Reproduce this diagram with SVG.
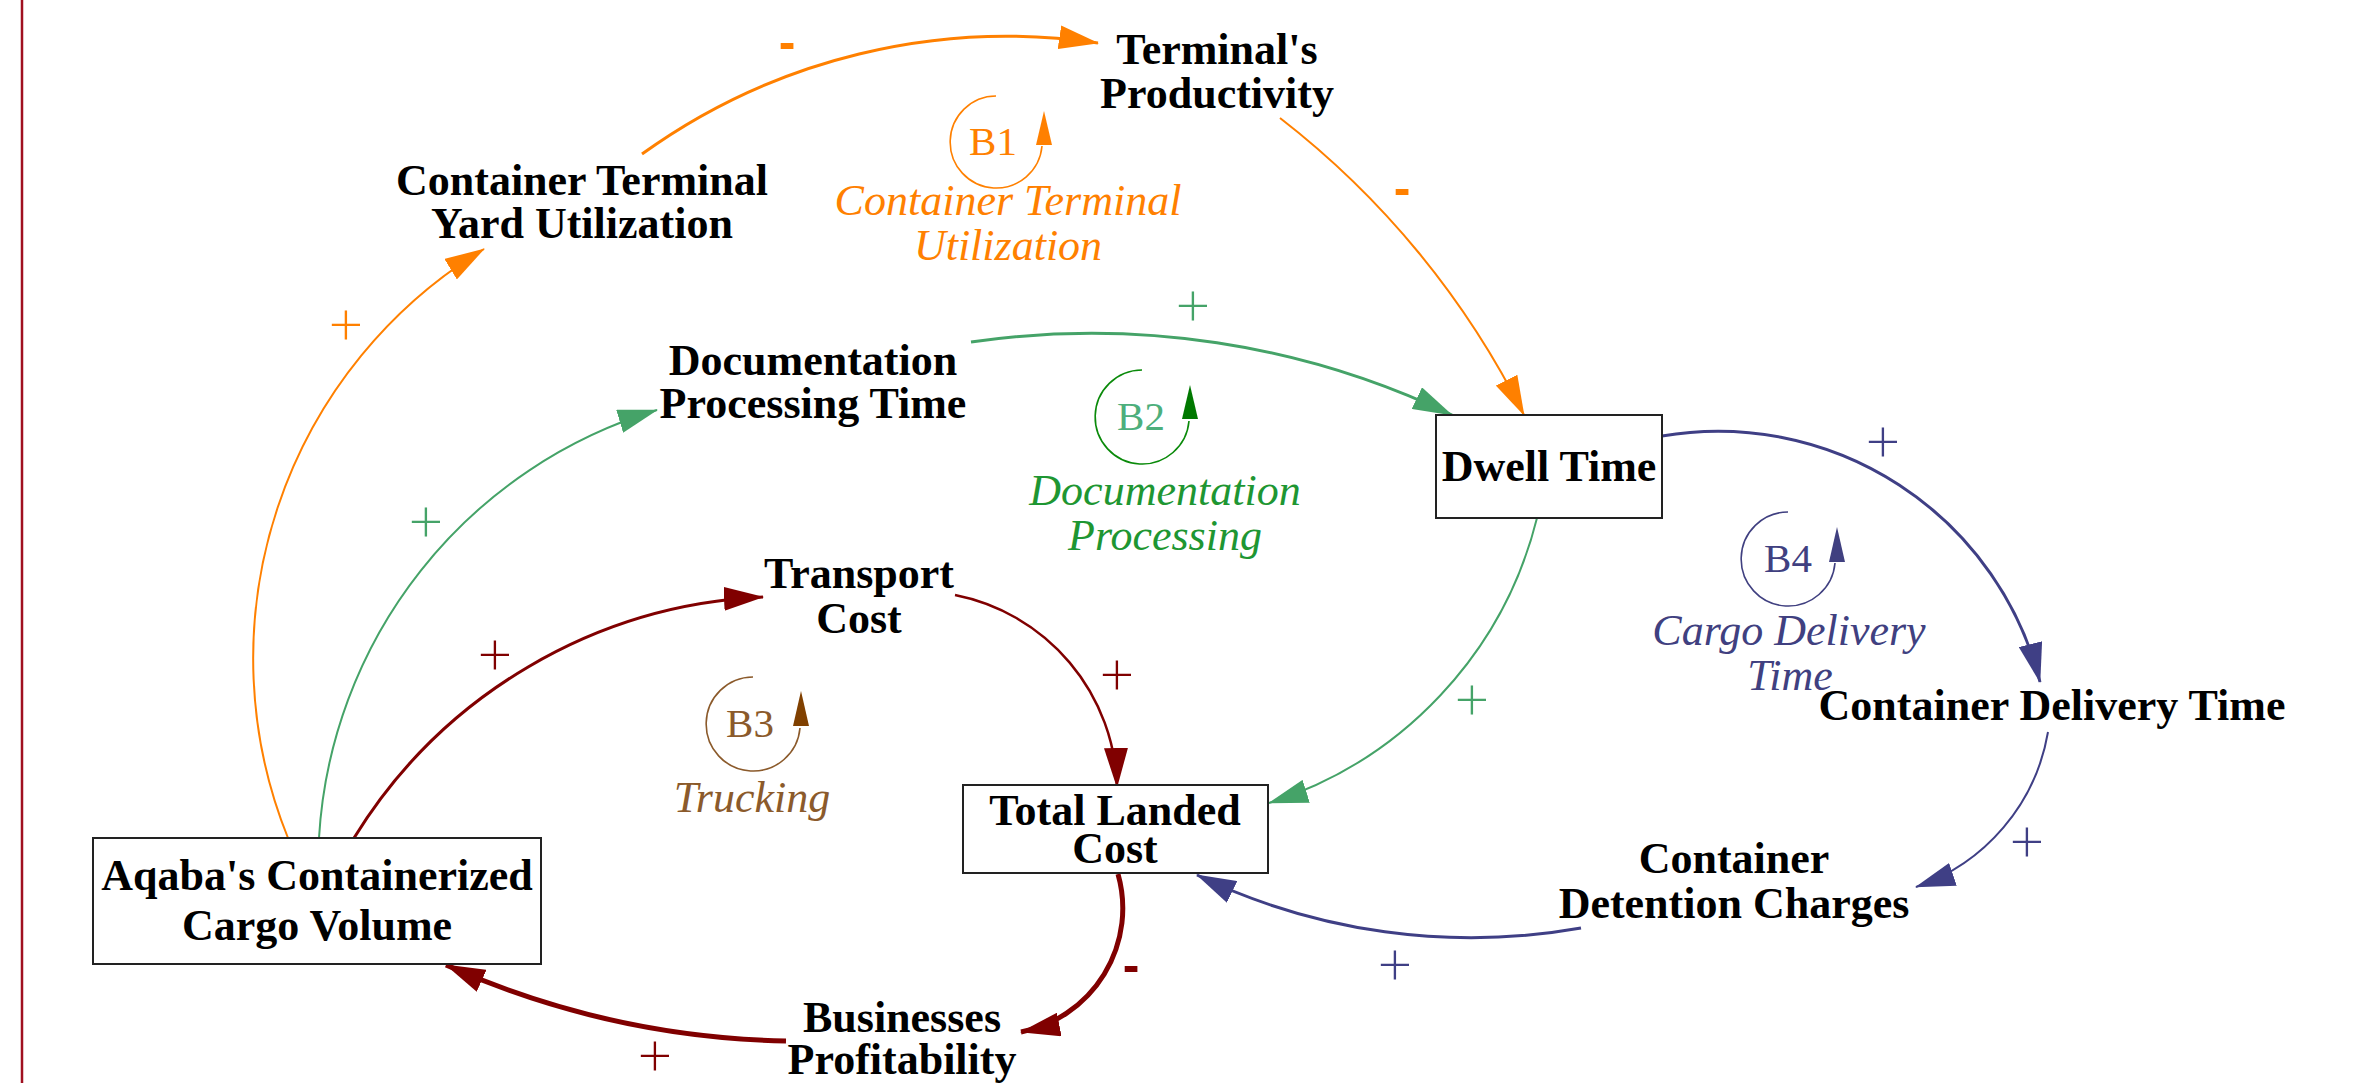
<svg xmlns="http://www.w3.org/2000/svg" width="2377" height="1083" viewBox="0 0 2377 1083">
<style>
.n{font-family:"Liberation Serif","Times New Roman",serif;font-weight:bold;font-size:44px;fill:#000;text-anchor:middle}
.lb{font-family:"Liberation Serif","Times New Roman",serif;font-style:italic;font-size:44px;text-anchor:middle}
.bl{font-family:"Liberation Serif","Times New Roman",serif;font-size:41px;text-anchor:middle}
.pol{font-family:Lato,"DejaVu Sans",sans-serif;font-weight:300;font-size:60px;text-anchor:middle}
.neg{font-family:"Liberation Sans",Arial,sans-serif;font-weight:bold;font-size:50px;text-anchor:middle}
.box{fill:#fff;stroke:#222;stroke-width:2}
.c{fill:none;stroke-linecap:butt}
.or{stroke:#FF8000}.gr{stroke:#45A368}.mr{stroke:#800000}.bu{stroke:#3F3F85}
.loop{fill:none;stroke-width:1.6}
</style>
<defs>
<marker id="ao" viewBox="0 0 40 24" markerWidth="40" markerHeight="24" refX="39" refY="12" orient="auto" markerUnits="userSpaceOnUse"><path d="M0,0 L40,12 L0,24 z" fill="#FF8000"/></marker>
<marker id="ag" viewBox="0 0 40 24" markerWidth="40" markerHeight="24" refX="39" refY="12" orient="auto" markerUnits="userSpaceOnUse"><path d="M0,0 L40,12 L0,24 z" fill="#45A368"/></marker>
<marker id="am" viewBox="0 0 40 24" markerWidth="40" markerHeight="24" refX="39" refY="12" orient="auto" markerUnits="userSpaceOnUse"><path d="M0,0 L40,12 L0,24 z" fill="#800000"/></marker>
<marker id="ab" viewBox="0 0 40 24" markerWidth="40" markerHeight="24" refX="39" refY="12" orient="auto" markerUnits="userSpaceOnUse"><path d="M0,0 L40,12 L0,24 z" fill="#3F3F85"/></marker>
</defs>
<rect width="2377" height="1083" fill="#fff"/>
<line x1="22" y1="0" x2="22" y2="1083" stroke="#A01020" stroke-width="2.5"/>

<g id="connectors">
<path class="c or" stroke-width="2" marker-end="url(#ao)" d="M288,838 A479,479 0 0,1 484,249"/>
<path class="c or" stroke-width="3" marker-end="url(#ao)" d="M642,154 A623,623 0 0,1 1098,43"/>
<path class="c or" stroke-width="2" marker-end="url(#ao)" d="M1280,118 A863,863 0 0,1 1524,415"/>
<path class="c gr" stroke-width="2" marker-end="url(#ag)" d="M319,838 A476,476 0 0,1 657,410"/>
<path class="c gr" stroke-width="3" marker-end="url(#ag)" d="M971,342 A835,835 0 0,1 1452,415"/>
<path class="c gr" stroke-width="2" marker-end="url(#ag)" d="M1537,518 A400,400 0 0,1 1269,803"/>
<path class="c mr" stroke-width="3" marker-end="url(#am)" d="M354,838 A507,507 0 0,1 763,597"/>
<path class="c mr" stroke-width="2.5" marker-end="url(#am)" d="M955,595 A201,201 0 0,1 1117,787"/>
<path class="c mr" stroke-width="5" marker-end="url(#am)" d="M1118,874 A126,126 0 0,1 1021,1032"/>
<path class="c mr" stroke-width="5" marker-end="url(#am)" d="M786,1041 A878,878 0 0,1 446,965"/>
<path class="c bu" stroke-width="3" marker-end="url(#ab)" d="M1662,436 A332,332 0 0,1 2040,682"/>
<path class="c bu" stroke-width="2" marker-end="url(#ab)" d="M2048,732 A199,199 0 0,1 1916,887"/>
<path class="c bu" stroke-width="3" marker-end="url(#ab)" d="M1581,928 A630,630 0 0,1 1197,875"/>
<text class="pol" x="346" y="345" fill="#FF8000">+</text>
<text class="neg" x="787" y="59" fill="#FF8000">-</text>
<text class="neg" x="1402" y="205" fill="#FF8000">-</text>
<text class="pol" x="426" y="542" fill="#45A368">+</text>
<text class="pol" x="1193" y="326" fill="#45A368">+</text>
<text class="pol" x="1472" y="720" fill="#45A368">+</text>
<text class="pol" x="495" y="675" fill="#800000">+</text>
<text class="pol" x="1117" y="695" fill="#800000">+</text>
<text class="neg" x="1131" y="982" fill="#800000">-</text>
<text class="pol" x="655" y="1076" fill="#800000">+</text>
<text class="pol" x="1883" y="462" fill="#3F3F85">+</text>
<text class="pol" x="2027" y="862" fill="#3F3F85">+</text>
<text class="pol" x="1395" y="985" fill="#3F3F85">+</text>
</g>

<g id="node-yard"><text class="n" x="582" y="195">Container Terminal</text><text class="n" x="582" y="238">Yard Utilization</text></g>
<g id="node-productivity"><text class="n" x="1217" y="64">Terminal's</text><text class="n" x="1217" y="108">Productivity</text></g>
<g id="node-documentation"><text class="n" x="813" y="375">Documentation</text><text class="n" x="813" y="418">Processing Time</text></g>
<g id="node-transport"><text class="n" x="859" y="588">Transport</text><text class="n" x="859" y="633">Cost</text></g>
<g id="node-dwell"><rect class="box" x="1436" y="415" width="226" height="103"/><text class="n" x="1549" y="481">Dwell Time</text></g>
<g id="node-landed"><rect class="box" x="963" y="785" width="305" height="88"/><text class="n" x="1115" y="825">Total Landed</text><text class="n" x="1115" y="863">Cost</text></g>
<g id="node-aqaba"><rect class="box" x="93" y="838" width="448" height="126"/><text class="n" x="317" y="890">Aqaba's Containerized</text><text class="n" x="317" y="940">Cargo Volume</text></g>
<g id="node-businesses"><text class="n" x="902" y="1032">Businesses</text><text class="n" x="902" y="1074">Profitability</text></g>
<g id="node-delivery"><text class="n" x="2052" y="720">Container Delivery Time</text></g>
<g id="node-detention"><text class="n" x="1734" y="873">Container</text><text class="n" x="1734" y="918">Detention Charges</text></g>

<g id="loop-b1">
<path class="loop" stroke="#FF8000" d="M996,96 A46,46 0 1,0 1042,146"/>
<polygon points="1044,111 1036,145 1052,145" fill="#FF8000"/>
<text class="bl" x="993" y="155" fill="#FF8000">B1</text>
<text class="lb" x="1008" y="215" fill="#FF8000">Container Terminal</text>
<text class="lb" x="1008" y="260" fill="#FF8000">Utilization</text>
</g>
<g id="loop-b2">
<path class="loop" stroke="#0A8A0A" d="M1142,370 A47,47 0 1,0 1189,421"/>
<polygon points="1190,385 1182,419 1198,419" fill="#007800"/>
<text class="bl" x="1141" y="430" fill="#4DAF7C">B2</text>
<text class="lb" x="1165" y="505" fill="#1E9632">Documentation</text>
<text class="lb" x="1165" y="550" fill="#1E9632">Processing</text>
</g>
<g id="loop-b3">
<path class="loop" stroke="#8B5A2B" d="M753,677 A47,47 0 1,0 800,728"/>
<polygon points="801,691 793,726 809,726" fill="#804000"/>
<text class="bl" x="750" y="737" fill="#8B5A2B">B3</text>
<text class="lb" x="752" y="812" fill="#8B5A2B">Trucking</text>
</g>
<g id="loop-b4">
<path class="loop" stroke="#404080" d="M1788,512 A47,47 0 1,0 1835,563"/>
<polygon points="1837,527 1829,562 1845,562" fill="#404080"/>
<text class="bl" x="1788" y="572" fill="#404080">B4</text>
<text class="lb" x="1789" y="645" fill="#404080">Cargo Delivery</text>
<text class="lb" x="1790" y="690" fill="#404080">Time</text>
</g>
</svg>
